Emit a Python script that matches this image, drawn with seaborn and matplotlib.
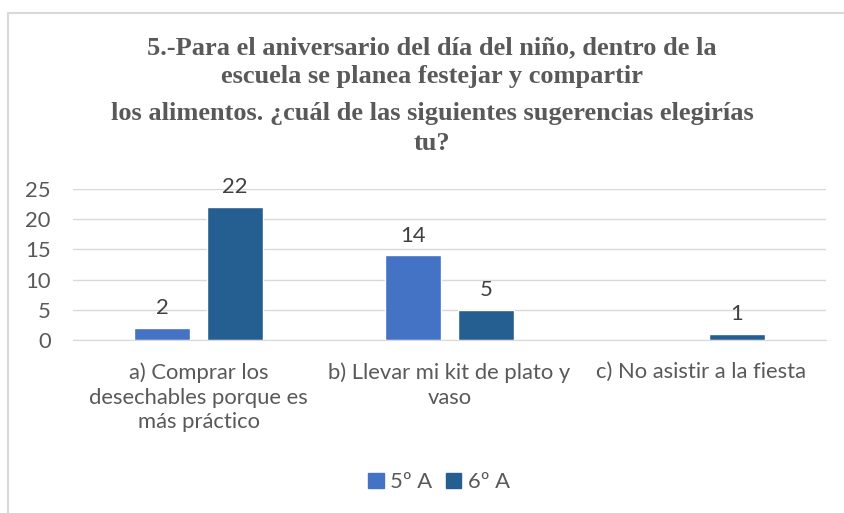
import numpy as np
import pandas as pd
import matplotlib.pyplot as plt
import seaborn as sns
from matplotlib.lines import Line2D

#data
categories = ["a) Comprar los\ndesechables porque es\nmás práctico",
              "b) Llevar mi kit de plato y\nvaso",
              "c) No asistir a la fiesta"]
grupo_5A = [2, 14, np.nan]
grupo_6A = [22, 5, 1]
series = ["5º A", "6º A"]
colors = ["#4472C4", "#255E91"]
title_lines = ["5.-Para el aniversario del día del niño, dentro de la",
               "escuela se planea festejar y compartir",
               "los alimentos. ¿cuál de las siguientes sugerencias elegirías",
               "tu?"]

df = pd.DataFrame({"cat": categories * 2,
                   "serie": [series[0]] * 3 + [series[1]] * 3,
                   "valor": grupo_5A + grupo_6A})

sns.set_style("white")
plt.rcParams['font.family'] = ['Lato', 'DejaVu Sans']
gray = "#595959"
fs = 15.8

fig = plt.figure(figsize=(8.44, 5.13), dpi=100)
ax = fig.add_axes([73/844, 1 - 340/513, (826 - 73)/844, (340 - 189)/513])

sns.barplot(data=df, x="cat", y="valor", hue="serie", palette=colors, saturation=1,
            width=0.58, gap=0.23, ax=ax, legend=False)

for cont in ax.containers:
    labels = ["" if np.isnan(v) or v == 0 else f"{int(v)}" for v in cont.datavalues]
    ax.bar_label(cont, labels=labels, padding=7, fontsize=fs, color="#404040")

ax.set_ylim(0, 25)
ax.set_yticks([0, 5, 10, 15, 20, 25])
ax.set_xlim(-0.5, 2.5)
ax.yaxis.grid(True, color="#D9D9D9", linewidth=1)
ax.set_axisbelow(True)
for s in ["top", "right", "left"]:
    ax.spines[s].set_visible(False)
ax.spines["bottom"].set_color("#D9D9D9")
ax.tick_params(axis="y", length=0, pad=16, labelsize=fs, labelcolor=gray)
ax.tick_params(axis="x", length=0, pad=16, labelsize=fs, labelcolor=gray)
for t in ax.get_xticklabels():
    t.set_linespacing(1.3)
ax.set_xlabel("")
ax.set_ylabel("")

#title
title_y = [54, 83, 120, 150]
for line, yy in zip(title_lines, title_y):
    fig.text(432/844, 1 - yy/513, line, ha="center", va="baseline", fontsize=19,
             fontweight="bold", color=gray, family=["Liberation Serif", "DejaVu Serif"])

#legend
handles = [plt.Rectangle((0, 0), 1, 1, color=c) for c in colors]
fig.legend(handles, series, loc="center", bbox_to_anchor=(439/844, 1 - 482/513),
           ncol=2, frameon=False, fontsize=fs, labelcolor=gray,
           handlelength=0.7, handleheight=0.7, handletextpad=0.3, columnspacing=0.6)

#border
fig.add_artist(Line2D([8/844, 8/844], [0, 1 - 13/513], transform=fig.transFigure,
                      color="#D9D9D9", linewidth=1.5))
fig.add_artist(Line2D([8/844, 1], [1 - 13/513, 1 - 13/513], transform=fig.transFigure,
                      color="#D9D9D9", linewidth=1.5))

fig.savefig("out.png", dpi=100)
